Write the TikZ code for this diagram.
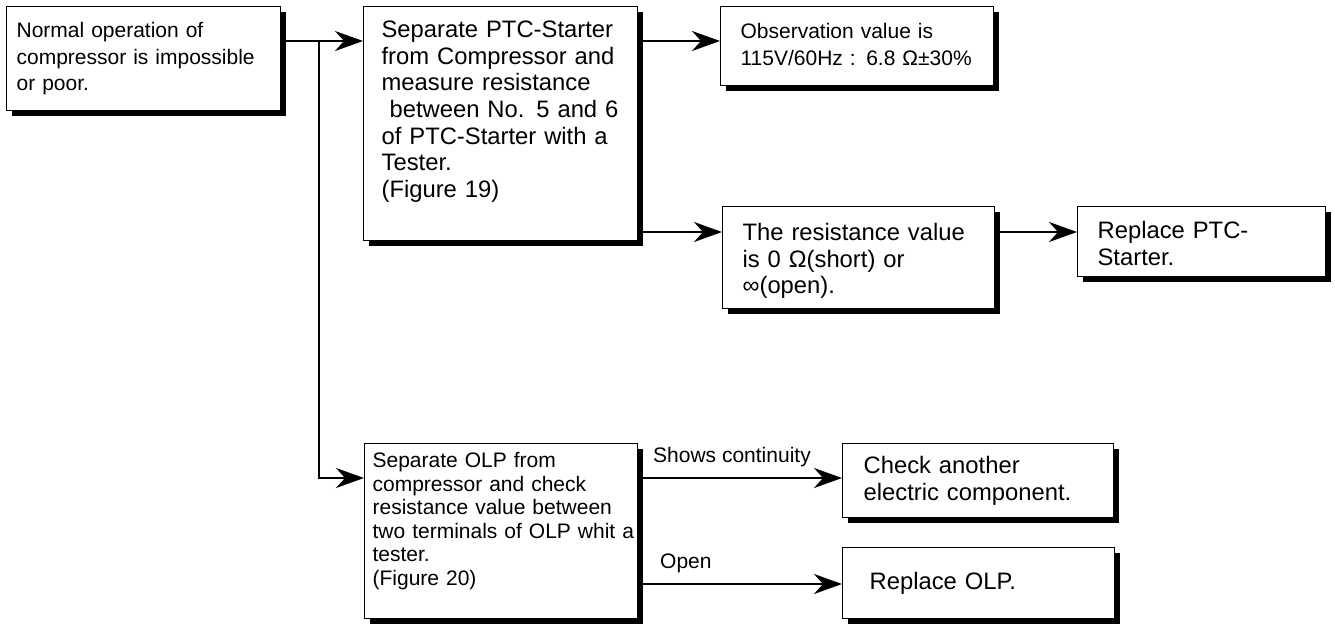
\documentclass[tikz,border=0pt]{standalone}
\usepackage{fontspec}
\setmainfont{Liberation Sans}
\usetikzlibrary{arrows.meta, shadows}

\tikzset{
  chartbox/.style={rectangle, draw=black, fill=white, line width=1.2pt,
    anchor=north west, inner sep=0pt, align=left,
    drop shadow={shadow xshift=5pt, shadow yshift=-5pt, fill=black, opacity=1}},
  bigtext/.style={font=\fontsize{23.8}{26.6}\selectfont},
  smalltext/.style={font=\fontsize{21}{26.6}\selectfont},
  flowline/.style={line width=2pt, -{Stealth[length=28pt,width=20pt,inset=9pt]}},
  edgelabel/.style={font=\fontsize{21}{26.6}\selectfont, inner sep=0pt, anchor=base west},
}

\begin{document}
\begin{tikzpicture}[x=1pt, y=-1pt]
\useasboundingbox (0,0) rectangle (1335,624);

% left column
\node[chartbox, smalltext, minimum width=274pt, text width=254pt,
      text height=31pt, text depth=73pt] (a) at (6,6)
  {Normal operation of\\compressor is impossible\\or poor.};

% PTC-Starter branch
\node[chartbox, bigtext, minimum width=274pt, text width=238pt,
      text height=31pt, text depth=203pt] (b) at (363,6)
  {Separate PTC-Starter\\from Compressor and\\measure resistance\\\ between No. 5 and 6\\of PTC-Starter with a\\Tester.\\(Figure 19)};
\node[chartbox, smalltext, minimum width=273pt, text width=233pt,
      text height=32pt, text depth=47pt] (c) at (720,6)
  {Observation value is\\115V/60Hz : 6.8 Ω±30\%};
\node[chartbox, bigtext, minimum width=272pt, text width=232pt,
      text height=34pt, text depth=68pt] (d) at (722,206)
  {The resistance value\\is 0 Ω(short) or\\∞(open).};
\node[chartbox, bigtext, minimum width=248pt, text width=208pt,
      text height=32pt, text depth=38pt] (e) at (1077,206)
  {Replace PTC-\\Starter.};

% OLP branch
\node[chartbox, font=\fontsize{21}{23.5}\selectfont, minimum width=273pt, text width=257pt,
      text height=24pt, text depth=151pt] (f) at (364,443)
  {Separate OLP from\\compressor and check\\resistance value between\\\mbox{two terminals of OLP whit a}\\tester.\\(Figure 20)};
\node[chartbox, bigtext, minimum width=271pt, text width=229pt,
      text height=30pt, text depth=44pt] (g) at (842,443)
  {Check another\\electric component.};
\node[chartbox, bigtext, minimum width=272pt, text width=218pt,
      text height=42pt, text depth=29pt] (h) at (842,547)
  {Replace OLP.};

% connectors
\coordinate (split) at (319,41);
\coordinate (rowd) at (0,232);
\coordinate (rowg) at (0,478);
\coordinate (rowh) at (0,584);

\draw[flowline] (a.east |- split) -- (b.west |- split);
\draw[flowline] (b.east |- split) -- (c.west |- split);
\draw[flowline] (b.east |- rowd) -- (d.west |- rowd);
\draw[flowline] (d.east |- rowd) -- (e.west |- rowd);
\draw[flowline] (split) |- (f.west |- rowg);
\draw[flowline] (f.east |- rowg) -- (g.west |- rowg);
\draw[flowline] (f.east |- rowh) -- (h.west |- rowh);

\node[edgelabel] (cont) at (653,462) {Shows continuity};
\node[edgelabel] (open) at (660,568) {Open};
\end{tikzpicture}
\end{document}
